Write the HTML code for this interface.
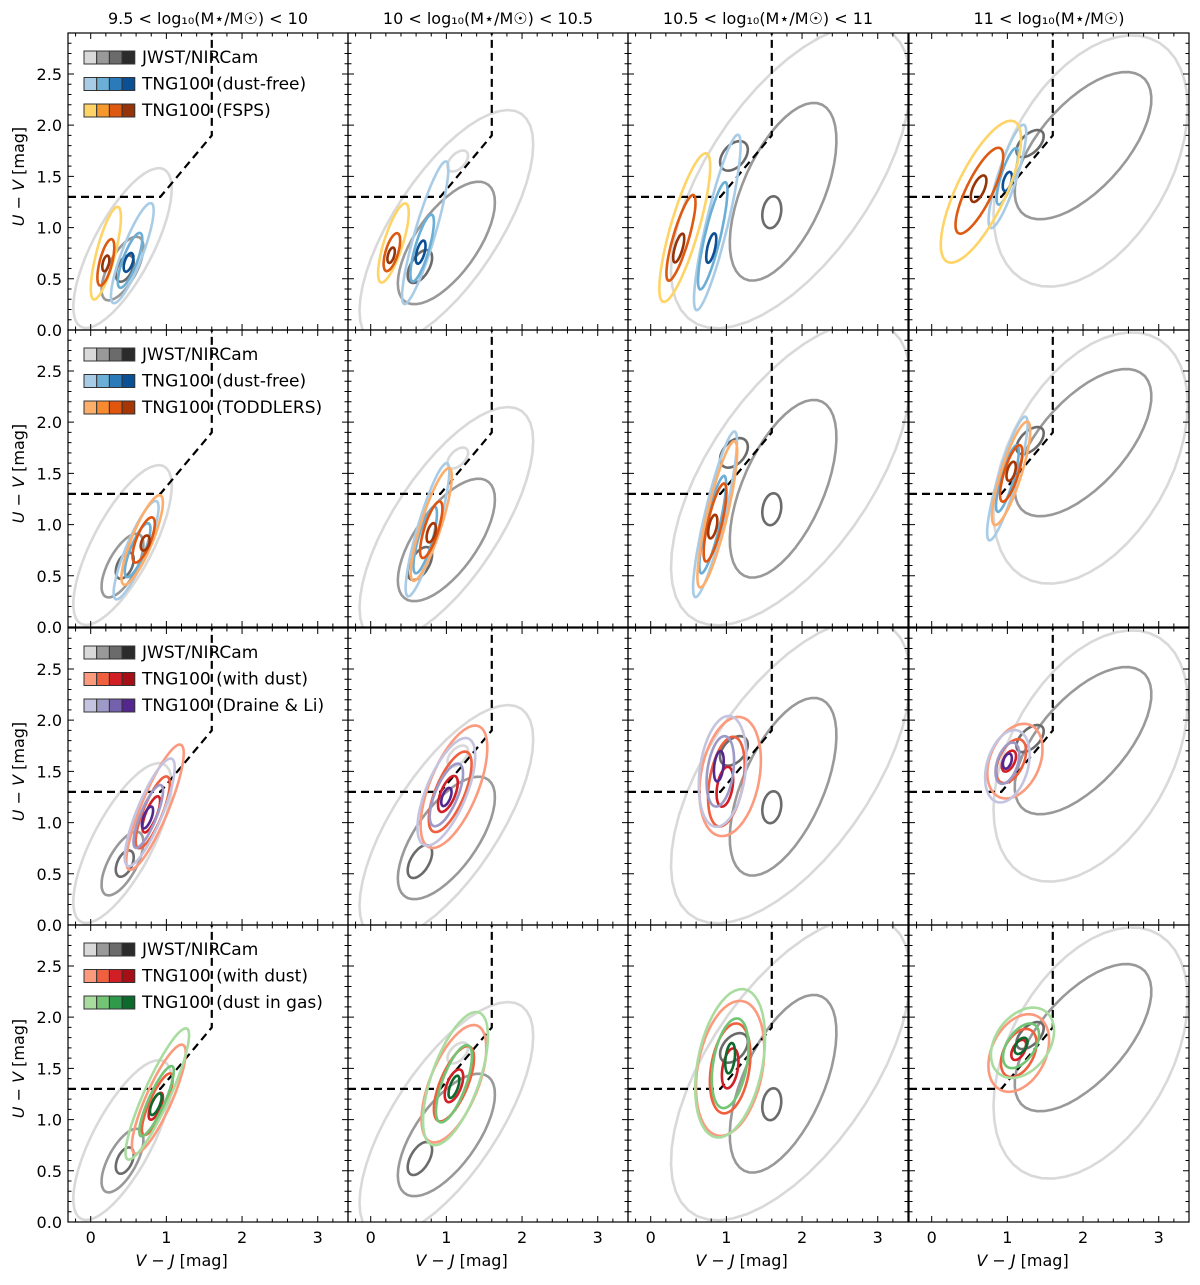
<!DOCTYPE html>
<html><head><meta charset="utf-8"><style>
body{margin:0;background:#fff;}
svg text{font-family:"DejaVu Sans","Liberation Sans",sans-serif;fill:#000;}
</style></head><body>
<svg id="chart" width="1200" height="1280" viewBox="0 0 1200 1280" xmlns="http://www.w3.org/2000/svg"></svg>
<script>
// ---- data ----
const colTitles = ["9.5 < log₁₀(M⋆/M☉) < 10","10 < log₁₀(M⋆/M☉) < 10.5","10.5 < log₁₀(M⋆/M☉) < 11","11 < log₁₀(M⋆/M☉)"];
const xTicks = [0,1,2,3];
const yTicks = [0.0,0.5,1.0,1.5,2.0,2.5];
const xRange = [-0.3,3.4];
const yRange = [0,2.9];
// UVJ boundary: horizontal at 1.3, diagonal to (1.6,1.9), then vertical
const uvjX = [-0.3,0.92,1.6,1.6];
const uvjY = [1.3,1.3,1.9,2.9];
const grayCols = ["#d9d9d9","#999999","#6b6b6b","#2b2b2b"];
// JWST contours per column: [level, cx, cy, a, b, angle]
const jwstContours = [
 [[0,0.42,0.8,0.95,0.36,52],[1,0.42,0.6,0.38,0.17,50],[2,0.45,0.6,0.15,0.09,50]],
 [[0,1.0,1.0,1.5,0.62,45],[1,1.0,0.85,0.8,0.36,42],[2,0.65,0.62,0.2,0.11,45],[0,1.15,1.65,0.15,0.08,30]],
 [[0,1.85,1.5,1.95,0.95,42],[1,1.75,1.35,1.0,0.5,55],[2,1.1,1.7,0.2,0.12,30],[2,1.6,1.15,0.16,0.12,70]],
 [[0,2.1,1.65,1.5,0.95,42],[1,2.0,1.8,1.05,0.48,35],[2,1.3,1.82,0.2,0.1,30]]
];
const legendLabels = [
 ["JWST/NIRCam","TNG100 (dust-free)","TNG100 (FSPS)"],
 ["JWST/NIRCam","TNG100 (dust-free)","TNG100 (TODDLERS)"],
 ["JWST/NIRCam","TNG100 (with dust)","TNG100 (Draine & Li)"],
 ["JWST/NIRCam","TNG100 (with dust)","TNG100 (dust in gas)"]
];
const palettes = {
 blue:["#a9cce6","#6baed6","#2b7bba","#0b4f95"],
 fsps:["#fed466","#f6992c","#dd5a10","#953409"],
 todd:["#fdae6b","#f88b2f","#e1560f","#a63603"],
 red:["#fc9a7e","#f0603f","#d21f26","#a50f15"],
 purple:["#c4c4e0","#9e9ac8","#7461ad","#54278f"],
 green:["#a9dc9f","#74c476","#2f9a4c","#0b6a2c"]
};
const rowPalettes = [["blue","fsps"],["blue","todd"],["red","purple"],["red","green"]];
// colored contours per panel: [paletteIndex(0/1), level, cx, cy, a, b, angle]
const panelContours = [
 [ // row 1
  [[0,0,0.55,0.75,0.55,0.13,62],[0,1,0.52,0.68,0.3,0.09,62],[0,3,0.5,0.66,0.1,0.05,62],[1,0,0.2,0.75,0.48,0.12,70],[1,2,0.2,0.66,0.24,0.08,70],[1,3,0.2,0.65,0.08,0.04,70]],
  [[0,0,0.72,0.95,0.75,0.13,68],[0,1,0.68,0.8,0.35,0.09,68],[0,3,0.66,0.76,0.12,0.05,68],[1,0,0.3,0.85,0.42,0.12,66],[1,2,0.28,0.76,0.2,0.08,66],[1,3,0.27,0.73,0.08,0.04,66]],
  [[0,0,0.88,1.05,0.9,0.14,72],[0,1,0.82,0.92,0.55,0.1,72],[0,3,0.8,0.8,0.15,0.05,72],[1,0,0.45,1.0,0.78,0.18,68],[1,2,0.4,0.9,0.45,0.1,68],[1,3,0.37,0.8,0.15,0.05,68]],
  [[0,0,1.0,1.5,0.55,0.12,66],[0,1,1.0,1.5,0.3,0.08,66],[0,3,1.0,1.45,0.1,0.05,66],[1,0,0.65,1.35,0.82,0.3,55],[1,2,0.63,1.36,0.5,0.16,55],[1,3,0.62,1.38,0.15,0.07,55]]
 ],
 [ // row 2
  [[0,0,0.6,0.75,0.55,0.13,60],[0,1,0.62,0.75,0.3,0.09,60],[1,0,0.68,0.85,0.5,0.13,60],[1,2,0.7,0.85,0.25,0.09,60],[1,3,0.72,0.82,0.08,0.05,60]],
  [[0,0,0.75,0.95,0.7,0.13,68],[0,1,0.72,0.85,0.35,0.09,68],[1,0,0.8,1.0,0.6,0.13,66],[1,2,0.8,0.95,0.3,0.09,66],[1,3,0.8,0.92,0.1,0.05,66]],
  [[0,0,0.85,1.1,0.85,0.13,72],[0,1,0.82,1.0,0.5,0.09,72],[1,0,0.88,1.1,0.75,0.13,72],[1,2,0.85,1.02,0.4,0.09,72],[1,3,0.82,0.98,0.12,0.05,72]],
  [[0,0,1.0,1.45,0.65,0.12,68],[0,1,1.0,1.45,0.35,0.08,68],[1,0,1.05,1.5,0.55,0.13,66],[1,2,1.05,1.5,0.3,0.09,66],[1,3,1.05,1.52,0.1,0.05,66]]
 ],
 [ // row 3
  [[0,0,0.85,1.15,0.7,0.17,60],[0,1,0.82,1.1,0.4,0.12,60],[0,2,0.8,1.08,0.2,0.07,60],[1,0,0.78,1.1,0.6,0.16,60],[1,1,0.76,1.06,0.35,0.1,60],[1,3,0.75,1.05,0.12,0.05,60]],
  [[0,0,1.1,1.35,0.68,0.3,58],[0,1,1.05,1.3,0.45,0.18,58],[0,2,1.02,1.28,0.2,0.09,58],[1,0,1.0,1.3,0.6,0.25,58],[1,1,1.0,1.27,0.35,0.14,58],[1,3,1.0,1.25,0.1,0.05,58]],
  [[0,0,1.05,1.45,0.6,0.38,72],[0,1,1.0,1.4,0.45,0.22,75],[0,2,0.98,1.35,0.2,0.1,75],[1,0,0.95,1.5,0.55,0.3,78],[1,1,0.92,1.5,0.35,0.17,78],[1,3,0.9,1.55,0.15,0.06,80]],
  [[0,0,1.1,1.6,0.42,0.3,45],[0,1,1.05,1.6,0.25,0.15,50],[0,2,1.02,1.6,0.12,0.07,50],[1,0,1.0,1.55,0.38,0.26,60],[1,1,1.0,1.58,0.22,0.13,60],[1,3,1.0,1.6,0.08,0.05,60]]
 ],
 [ // row 4
  [[0,0,0.9,1.2,0.62,0.16,58],[0,1,0.88,1.15,0.35,0.1,58],[0,2,0.86,1.13,0.15,0.06,58],[1,0,0.88,1.25,0.75,0.16,58],[1,1,0.87,1.18,0.4,0.1,58],[1,3,0.86,1.15,0.12,0.05,58]],
  [[0,0,1.1,1.35,0.65,0.3,58],[0,1,1.1,1.35,0.42,0.17,58],[0,2,1.1,1.33,0.18,0.09,58],[1,0,1.12,1.4,0.72,0.3,62],[1,1,1.1,1.35,0.42,0.15,62],[1,3,1.1,1.32,0.12,0.05,62]],
  [[0,0,1.05,1.5,0.68,0.42,72],[0,1,1.05,1.5,0.45,0.25,75],[0,2,1.05,1.5,0.2,0.1,75],[1,0,1.05,1.55,0.75,0.42,72],[1,1,1.05,1.55,0.45,0.22,75],[1,3,1.05,1.6,0.15,0.06,80]],
  [[0,0,1.15,1.65,0.45,0.32,40],[0,1,1.15,1.65,0.28,0.18,45],[0,2,1.15,1.68,0.12,0.07,45],[1,0,1.2,1.75,0.45,0.3,30],[1,1,1.18,1.72,0.28,0.16,40],[1,3,1.18,1.72,0.1,0.06,40]]
 ]
];
// ---- layout ----
const NS="http://www.w3.org/2000/svg";
const svg=document.getElementById('chart');
const lefts=[68,348,628,909], W=280;
const tops=[33,330,628,925], H=297;
function xs(c,v){return lefts[c]+(v-xRange[0])/(xRange[1]-xRange[0])*W;}
function ys(r,v){return tops[r]+(yRange[1]-v)/(yRange[1]-yRange[0])*H;}
function mk(tag,attrs,parent){const e=document.createElementNS(NS,tag);for(const k in attrs)e.setAttribute(k,attrs[k]);(parent||svg).appendChild(e);return e;}
function ellipsePath(r,c,cx,cy,a,b,ang){
  const t=ang*Math.PI/180;let d="";
  for(let i=0;i<=48;i++){const p=i/48*2*Math.PI;
    const x=cx+a*Math.cos(t)*Math.cos(p)-b*Math.sin(t)*Math.sin(p);
    const y=cy+a*Math.sin(t)*Math.cos(p)+b*Math.cos(t)*Math.sin(p);
    d+=(i?"L":"M")+xs(c,x).toFixed(1)+","+ys(r,y).toFixed(1);}
  return d+"Z";
}
for(let r=0;r<4;r++){for(let c=0;c<4;c++){
  const g=mk('g',{'clip-path':'url(#clip'+r+c+')'});
  
  
  const cp=mk('clipPath',{id:'clip'+r+c});
  mk('rect',{x:lefts[c],y:tops[r],width:W,height:H},cp);
  jwstContours[c].forEach(k=>{
    const p=mk('path',{d:ellipsePath(r,c,k[1],k[2],k[3],k[4],k[5]),fill:'none',stroke:grayCols[k[0]],'stroke-width':2.6},g);
    
    
  });
  let d="";for(let i=0;i<uvjX.length;i++)d+=(i?"L":"M")+xs(c,uvjX[i])+","+ys(r,uvjY[i]);
  const u=mk('path',{d:d,fill:'none',stroke:'#000','stroke-width':2.2,'stroke-dasharray':'8,5'},g);
  
  
  panelContours[r][c].forEach(k=>{
    const col=palettes[rowPalettes[r][k[0]]][k[1]];
    const p=mk('path',{d:ellipsePath(r,c,k[2],k[3],k[4],k[5],k[6]),fill:'none',stroke:col,'stroke-width':2.6},g);
    
    
  });
  const fr=mk('rect',{x:lefts[c],y:tops[r],width:W,height:H,fill:'none',stroke:'#000','stroke-width':1.2});
  
  
  let td="";
  for(let v=-0.2;v<=3.41;v+=0.2){const vv=Math.round(v*10)/10;const maj=Math.abs(vv-Math.round(vv))<1e-6;const L=maj?6:3.5;const x=xs(c,vv);
    td+="M"+x+","+(tops[r]+H)+"v"+(-L)+"M"+x+","+tops[r]+"v"+L;}
  for(let v=0.1;v<2.9;v+=0.1){const vv=Math.round(v*10)/10;const maj=Math.abs(vv*2-Math.round(vv*2))<1e-6;const L=maj?6:3.5;const y=ys(r,vv);
    td+="M"+lefts[c]+","+y+"h"+L+"M"+(lefts[c]+W)+","+y+"h"+(-L);}
  const tk=mk('path',{d:td,stroke:'#000','stroke-width':1,fill:'none'});
  
  
  if(r==3){xTicks.forEach(v=>{const t=mk('text',{x:xs(c,v),y:1243,'font-size':16,'text-anchor':'middle'});t.textContent=v;
    
    });
    const xl=mk('text',{x:xs(c,1.2),y:1266,'font-size':16,'text-anchor':'middle'});
    xl.innerHTML='<tspan font-style="italic">V</tspan> − <tspan font-style="italic">J</tspan> [mag]';
    
    }
  if(c==0){yTicks.forEach(v=>{const t=mk('text',{x:62,y:ys(r,v)+6,'font-size':16,'text-anchor':'end'});t.textContent=v.toFixed(1);
    
    });
    const yl=mk('text',{x:0,y:0,'font-size':16,'text-anchor':'middle',transform:'translate(24,'+(tops[r]+H/2-5)+') rotate(-90)'});
    yl.innerHTML='<tspan font-style="italic">U</tspan> − <tspan font-style="italic">V</tspan> [mag]';
    
    
    const lg=mk('g',{});
    
    
    const sets=[grayCols,palettes[rowPalettes[r][0]],palettes[rowPalettes[r][1]]];
    for(let i=0;i<3;i++){const y=tops[r]+18+i*26.5;
      for(let j=0;j<4;j++){mk('rect',{x:84+j*12.7,y:y,width:12.7,height:13,fill:sets[i][j],stroke:'#333','stroke-width':1},lg);}
      const t=mk('text',{x:142,y:y+12,'font-size':17},lg);t.textContent=legendLabels[r][i];
      
      }
  }
  if(r==0){const t=mk('text',{x:lefts[c]+W/2,y:24,'font-size':16,'text-anchor':'middle'});t.textContent=colTitles[c];
    
    }
}}
</script>
</body></html>
